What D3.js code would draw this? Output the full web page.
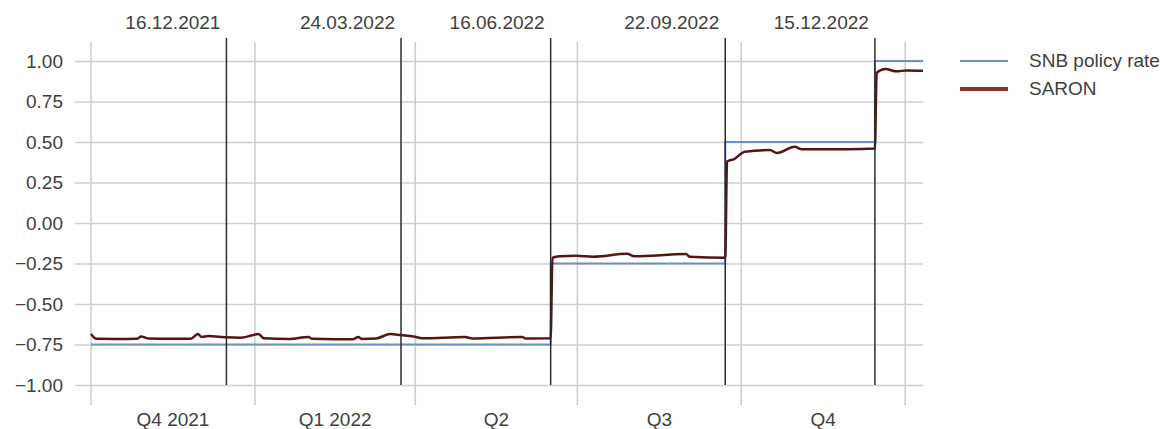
<!DOCTYPE html>
<html lang="en">
<head>
  <meta charset="UTF-8">
  <title>SNB policy rate and SARON</title>
  <style>
    body { margin: 0; background: #fff; }
    text { font-family: 'Liberation Sans', Arial, sans-serif; fill: #404040; }
    .grid line { stroke: #cfcfcf; stroke-width: 1.5; }
    .grid .domain { display: none; }
  </style>
</head>
<body>
  <div id="chart"></div>
  <script src="https://cdn.jsdelivr.net/npm/d3@7"></script>
  <script>
    const parse = d3.timeParse('%Y-%m-%d');

    const yTicks = [-1, -0.75, -0.5, -0.25, 0, 0.25, 0.5, 0.75, 1];

    const quarterStarts = ['2021-10-01', '2022-01-01', '2022-04-01', '2022-07-01', '2022-10-01', '2023-01-01'];
    const quarterLabels = ['Q4 2021', 'Q1 2022', 'Q2', 'Q3', 'Q4'];

    const meetingDates = ['2021-12-16', '2022-03-24', '2022-06-16', '2022-09-22', '2022-12-15'];
    const meetingLabels = ['16.12.2021', '24.03.2022', '16.06.2022', '22.09.2022', '15.12.2022'];

    const policyDates = ['2021-10-01', '2022-06-16', '2022-09-22', '2022-12-15', '2023-01-11'];
    const policyValues = [-0.75, -0.25, 0.5, 1.0, 1.0];

    const saronDates = [
      '2021-10-01', '2021-10-04', '2021-10-15', '2021-10-27', '2021-10-29', '2021-11-02',
      '2021-11-15', '2021-11-26', '2021-11-30', '2021-12-02', '2021-12-06', '2021-12-15',
      '2021-12-24', '2021-12-30', '2022-01-03', '2022-01-06', '2022-01-20', '2022-01-31',
      '2022-02-02', '2022-02-15', '2022-02-25', '2022-02-28', '2022-03-02', '2022-03-10',
      '2022-03-18', '2022-03-24', '2022-03-31', '2022-04-05', '2022-04-29', '2022-05-03',
      '2022-05-31', '2022-06-02', '2022-06-16', '2022-06-17', '2022-06-21', '2022-06-30',
      '2022-07-10', '2022-07-29', '2022-08-02', '2022-08-31', '2022-09-02', '2022-09-22',
      '2022-09-23', '2022-09-27', '2022-10-03', '2022-10-17', '2022-10-21', '2022-10-31',
      '2022-11-04', '2022-11-30', '2022-12-15', '2022-12-16', '2022-12-21', '2022-12-27',
      '2023-01-02', '2023-01-11'
    ];
    const saronValues = [
      -0.685, -0.715, -0.716, -0.714, -0.700, -0.713,
      -0.715, -0.714, -0.685, -0.703, -0.698, -0.705,
      -0.708, -0.695, -0.685, -0.712, -0.716, -0.703,
      -0.715, -0.718, -0.717, -0.704, -0.716, -0.713,
      -0.685, -0.692, -0.700, -0.712, -0.704, -0.713,
      -0.703, -0.713, -0.712, -0.215, -0.205, -0.202,
      -0.208, -0.190, -0.206, -0.192, -0.208, -0.215,
      0.380, 0.395, 0.440, 0.450, 0.432, 0.470,
      0.455, 0.455, 0.460, 0.928, 0.950, 0.936,
      0.942, 0.940
    ];

    const width = 1176, height = 429;
    const svg = d3.select('#chart').append('svg')
      .attr('width', width)
      .attr('height', height);

    const x = d3.scaleTime()
      .domain([parse('2021-09-22'), parse('2023-01-11')])
      .range([75, 923]);
    const y = d3.scaleLinear()
      .domain([-1, 1])
      .range([385, 61]);

    // horizontal gridlines + y labels
    const yAxis = d3.axisLeft(y)
      .tickValues(yTicks)
      .tickSize(-(x.range()[1] - x.range()[0]));
    svg.append('g')
      .attr('class', 'grid')
      .attr('transform', `translate(${x.range()[0]},0)`)
      .call(yAxis)
      .call(g => g.selectAll('text')
        .attr('x', 63 - x.range()[0])
        .style('font-size', '19px')
        .text(d => d3.format('.2f')(d).replace('-', '\u2212')));

    // quarter separators
    const quarters = quarterStarts.map(parse);
    svg.append('g')
      .selectAll('line')
      .data(quarters)
      .join('line')
      .attr('x1', d => x(d)).attr('x2', d => x(d))
      .attr('y1', 42).attr('y2', 405)
      .attr('stroke', '#cccccc')
      .attr('stroke-width', 1.5);

    svg.append('g')
      .selectAll('text')
      .data(quarterLabels)
      .join('text')
      .attr('x', (d, i) => (x(quarters[i]) + x(quarters[i + 1])) / 2)
      .attr('y', 426)
      .attr('text-anchor', 'middle')
      .style('font-size', '19px')
      .text(d => d);

    // policy rate
    const policy = policyDates.map((d, i) => ({ date: parse(d), value: policyValues[i] }));
    svg.append('path')
      .datum(policy)
      .attr('fill', 'none')
      .attr('stroke', '#6a90c8')
      .attr('stroke-width', 2)
      .attr('d', d3.line().curve(d3.curveStepAfter).x(d => x(d.date)).y(d => y(d.value)));

    // SARON
    const saron = saronDates.map((d, i) => ({ date: parse(d), value: saronValues[i] }));
    svg.append('path')
      .datum(saron)
      .attr('fill', 'none')
      .attr('stroke', '#561414')
      .attr('stroke-width', 2.5)
      .attr('stroke-linejoin', 'round')
      .attr('d', d3.line().curve(d3.curveMonotoneX).x(d => x(d.date)).y(d => y(d.value)));

    // SNB meeting dates
    const meetings = meetingDates.map(parse);
    svg.append('g')
      .selectAll('line')
      .data(meetings)
      .join('line')
      .attr('x1', d => x(d)).attr('x2', d => x(d))
      .attr('y1', 38).attr('y2', 385)
      .attr('stroke', '#2b2b2b')
      .attr('stroke-width', 1.5);

    svg.append('g')
      .selectAll('text')
      .data(meetingLabels)
      .join('text')
      .attr('x', (d, i) => x(meetings[i]) - 6)
      .attr('y', 29)
      .attr('text-anchor', 'end')
      .style('font-size', '19px')
      .text(d => d);

    // legend
    const legendItems = [
      { label: 'SNB policy rate', color: '#6a90c8', w: 2, y: 61 },
      { label: 'SARON', color: '#8a3030', w: 4, y: 89 }
    ];
    const legend = svg.append('g');
    legend.selectAll('line')
      .data(legendItems)
      .join('line')
      .attr('x1', 960).attr('x2', 1008)
      .attr('y1', d => d.y).attr('y2', d => d.y)
      .attr('stroke', d => d.color)
      .attr('stroke-width', d => d.w);
    legend.selectAll('text')
      .data(legendItems)
      .join('text')
      .attr('x', 1029)
      .attr('y', d => d.y + 1)
      .attr('dominant-baseline', 'middle')
      .style('font-size', '19px')
      .text(d => d.label);
  </script>
</body>
</html>
